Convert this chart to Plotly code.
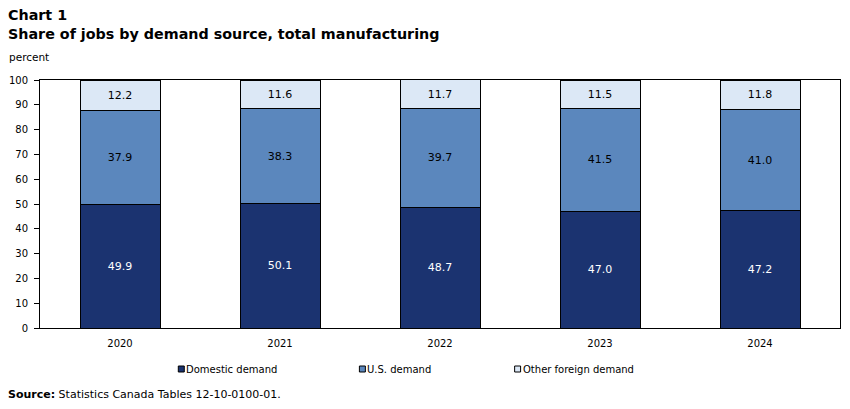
import plotly.graph_objects as go

years = ["2020", "2021", "2022", "2023", "2024"]
domestic = [49.9, 50.1, 48.7, 47.0, 47.2]
us = [37.9, 38.3, 39.7, 41.5, 41.0]
other = [12.2, 11.6, 11.7, 11.5, 11.8]
series_names = ["Domestic demand", "U.S. demand", "Other foreign demand"]
colors = ["#1b3370", "#5b87bd", "#dce8f6"]
text_colors = ["white", "black", "black"]

FONT = "DejaVu Sans"
L, R, T, B = 37, 9, 80, 81
PW, PH = 850 - L - R, 409 - T - B


def px(x):
    return (x - L) / PW


def py(y):
    return (409 - B - y) / PH


fig = go.Figure()
for vals, name, col, tc in zip([domestic, us, other], series_names, colors, text_colors):
    fig.add_trace(go.Bar(
        x=years, y=vals, name=name, showlegend=False,
        marker=dict(color=col, line=dict(color="black", width=1)),
        text=[f"{v:.1f}" for v in vals], textposition="inside",
        insidetextanchor="middle", textangle=0,
        textfont=dict(family=FONT, size=11, color=tc),
        hoverinfo="skip",
    ))

# legend: small square swatch + label
legend_sq_x = [176, 358, 514]
for name, col, sx in zip(series_names, colors, legend_sq_x):
    fig.add_shape(type="rect", xref="paper", yref="paper",
                  x0=px(sx), x1=px(sx + 6), y0=py(372), y1=py(366),
                  fillcolor=col, line=dict(color="black", width=1))
    fig.add_annotation(text=name, xref="paper", yref="paper", x=px(sx + 7), y=py(369),
                       xanchor="left", yanchor="middle", showarrow=False,
                       font=dict(family=FONT, size=10, color="black"), borderpad=0)

fig.update_layout(
    barmode="stack", bargap=0.5,
    width=850, height=409,
    margin=dict(l=L, r=R, t=T, b=B),
    paper_bgcolor="white", plot_bgcolor="white",
    font=dict(family=FONT, size=10, color="black"),
    showlegend=False,
    xaxis=dict(showline=True, mirror=True, linecolor="black", linewidth=1,
               ticks="", tickfont=dict(family=FONT, size=10), showgrid=False,
               ticklabelstandoff=6),
    yaxis=dict(range=[0, 100], dtick=10, showline=True, mirror=True, linecolor="black",
               linewidth=1, ticks="outside", ticklen=5, tickcolor="black",
               showgrid=False, zeroline=False, tickfont=dict(family=FONT, size=10),
               ticklabelstandoff=4),
)

fig.add_annotation(text="<b>Chart 1</b><br><b>Share of jobs by demand source, total manufacturing</b>",
                   xref="paper", yref="paper", x=px(4), y=py(6),
                   xanchor="left", yanchor="top", align="left", showarrow=False,
                   font=dict(family=FONT, size=14.3, color="black"), borderpad=0)
fig.add_annotation(text="percent", xref="paper", yref="paper", x=px(5), y=py(57),
                   xanchor="left", yanchor="middle", align="left", showarrow=False,
                   font=dict(family=FONT, size=10.5, color="black"), borderpad=0)
fig.add_annotation(text="<b>Source:</b> Statistics Canada Tables 12-10-0100-01.",
                   xref="paper", yref="paper", x=px(4), y=py(395),
                   xanchor="left", yanchor="middle", align="left", showarrow=False,
                   font=dict(family=FONT, size=11, color="black"), borderpad=0)

fig.write_html("out.html")
